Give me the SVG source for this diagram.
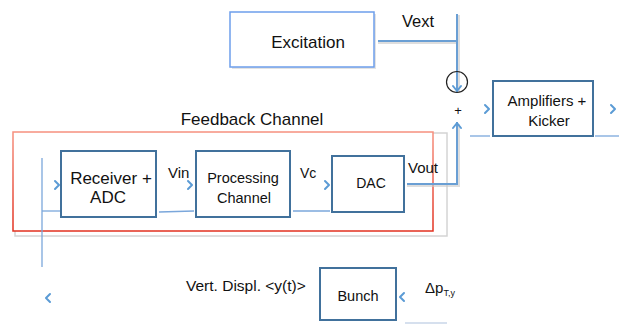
<svg xmlns="http://www.w3.org/2000/svg" width="619" height="324" viewBox="0 0 619 324">
  <defs>
    <linearGradient id="redg" x1="0" y1="0" x2="0" y2="1">
      <stop offset="0" stop-color="#f6907e"/>
      <stop offset="1" stop-color="#e2301f"/>
    </linearGradient>
    <style>
      text { font-family: "Liberation Sans", Arial, sans-serif; fill: #111; }
      .box { fill: #fff; stroke: #41719c; stroke-width: 2; }
      .wire { fill: none; stroke: #6a9fd4; stroke-width: 2; }
      .thin { fill: none; stroke: #7ba7db; stroke-width: 1.3; }
      .chev { fill: none; stroke: #5b9bd5; stroke-width: 2; stroke-linecap: round; stroke-linejoin: round; }
      .shadow { fill: none; stroke: #c8c8c8; stroke-width: 2; }
    </style>
  </defs>
  <rect width="619" height="324" fill="#fff"/>

  <!-- Feedback channel frame -->
  <g id="feedback-channel">
    <rect x="15" y="133" width="432" height="103" fill="#fff" stroke="#d4d4d4" stroke-width="1.5"/>
    <rect x="13" y="132" width="420" height="99" fill="#fff" stroke="url(#redg)" stroke-width="1.5"/>
    <text x="252" y="125" font-size="17" text-anchor="middle">Feedback Channel</text>
  </g>

  <!-- Connectors -->
  <g id="connectors">
    <!-- excitation to summing -->
    <line x1="378" y1="43" x2="457" y2="43" class="shadow" stroke-width="1.5" opacity="0.6"/>
    <line x1="459" y1="15" x2="459" y2="92" class="shadow" stroke-width="1.5" opacity="0.6"/>
    <line x1="378" y1="41" x2="457" y2="41" class="wire"/>
    <line x1="457" y1="14" x2="457" y2="92" class="wire"/>
    <polyline points="453,86 457,91 461,86" class="chev"/>
    <!-- Vout to summing -->
    <polyline points="407,186 459,186 459,124" class="shadow" stroke-width="2" opacity="0.6"/>
    <polyline points="407,184 457,184 457,122" class="wire"/>
    <polyline points="453,128 457,123 461,128" class="chev"/>
    <!-- around amplifiers -->
    <line x1="470" y1="136" x2="490" y2="136" class="thin"/>
    <polyline points="485,105 489,109 485,113" class="chev"/>
    <line x1="595" y1="136" x2="619" y2="136" class="thin"/>
    <polyline points="611,105 615,109 611,113" class="chev"/>
    <!-- left feedback path -->
    <line x1="42" y1="158" x2="42" y2="267" class="thin"/>
    <line x1="42" y1="211" x2="61" y2="211" class="thin"/>
    <polyline points="55,181 59,185 55,189" class="chev"/>
    <line x1="159" y1="212" x2="194" y2="211" class="thin"/>
    <polyline points="188,181 192,185 188,189" class="chev"/>
    <line x1="293" y1="211" x2="330" y2="211" class="thin"/>
    <polyline points="325,181 329,185 325,189" class="chev"/>
    <!-- bunch -->
    <polyline points="404,293 400,297 404,301" class="chev"/>
    <polyline points="50,294 46,298 50,302" class="chev"/>
    <line x1="405" y1="323" x2="447" y2="323" stroke="#c9d6e8" stroke-width="1.5"/>
    <!-- summing node -->
    <circle cx="457" cy="82" r="10.5" fill="none" stroke="#222" stroke-width="1.2"/>
    <text x="458" y="115" font-size="13" text-anchor="middle">+</text>
  </g>

  <g id="excitation">
    <rect x="232" y="14" width="144" height="55" fill="#d0d0d0" opacity="0.6"/>
    <rect x="230" y="12" width="144" height="55" fill="#fff" stroke="#6d9eeb" stroke-width="1.5"/>
    <text x="308" y="48" font-size="17" text-anchor="middle">Excitation</text>
  </g>
  <text x="402" y="27" font-size="16.5">Vext</text>

  <g id="amplifiers">
    <rect x="493" y="81" width="100" height="55" class="box"/>
    <text x="547" y="106" font-size="15" text-anchor="middle">Amplifiers +</text>
    <text x="549" y="126" font-size="15" text-anchor="middle">Kicker</text>
  </g>

  <g id="receiver">
    <rect x="61" y="151" width="95" height="66" class="box"/>
    <text x="111" y="184" font-size="17" text-anchor="middle">Receiver +</text>
    <text x="108" y="203" font-size="17" text-anchor="middle">ADC</text>
  </g>
  <text x="168" y="178" font-size="15">Vin</text>

  <g id="processing">
    <rect x="196" y="151" width="94" height="66" class="box"/>
    <text x="243" y="183" font-size="14.5" text-anchor="middle">Processing</text>
    <text x="244" y="203" font-size="14.5" text-anchor="middle">Channel</text>
  </g>
  <text x="300" y="178" font-size="14">Vc</text>

  <g id="dac">
    <rect x="332" y="156" width="72" height="56" class="box"/>
    <text x="371" y="188" font-size="14" text-anchor="middle">DAC</text>
  </g>
  <text x="408" y="173" font-size="15">Vout</text>

  <g id="bunch">
    <rect x="320" y="268" width="76" height="52" class="box"/>
    <text x="358" y="301" font-size="14.5" text-anchor="middle">Bunch</text>
  </g>
  <text x="186" y="291" font-size="15.5">Vert. Displ. &lt;y(t)&gt;</text>
  <text x="425" y="293" font-size="15">Δp<tspan font-size="9" dy="3">T,y</tspan></text>
</svg>
